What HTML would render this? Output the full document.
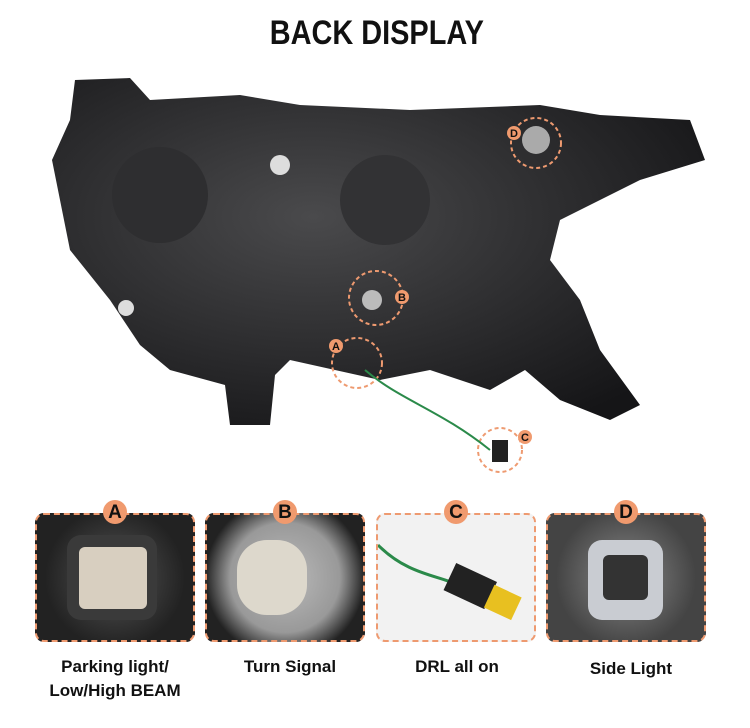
<!DOCTYPE html>
<html><head><style>
body{margin:0;width:750px;height:728px;background:#fff;position:relative;overflow:hidden;font-family:"Liberation Sans",sans-serif}
.t{position:absolute;top:14px;left:0;width:750px;text-align:center;font-weight:bold;font-size:34px;color:#111;transform:scaleX(0.85);transform-origin:387px 0}
.p{position:absolute;top:513px;width:160px;height:129px;border:2px dashed #ee9a70;border-radius:9px;overflow:hidden;box-sizing:border-box}
.l{position:absolute;top:500px;width:24px;height:24px;border-radius:50%;background:#f09a6e;color:#111;font-weight:bold;font-size:19px;text-align:center;line-height:25px}
.c{position:absolute;top:655px;width:170px;text-align:center;font-weight:bold;font-size:17px;color:#111;line-height:24px}
</style></head><body>
<div class="t">BACK DISPLAY</div>
<svg width="750" height="500" style="position:absolute;left:0;top:0">
<defs><radialGradient id="g" cx="40%" cy="40%" r="70%"><stop offset="0" stop-color="#4a4a4c"/><stop offset="1" stop-color="#151517"/></radialGradient></defs>
<path d="M75 80 L130 78 L150 100 L240 95 L300 105 L410 110 L540 105 L600 115 L690 120 L705 160 L640 180 L560 220 L550 260 L580 300 L600 350 L640 405 L610 420 L560 400 L525 370 L490 390 L430 370 L380 380 L290 360 L275 375 L270 425 L230 425 L225 385 L170 370 L140 345 L110 300 L70 250 L52 160 L70 120 Z" fill="url(#g)"/>
<circle cx="160" cy="195" r="48" fill="#2e2e30"/><circle cx="385" cy="200" r="45" fill="#323234"/>
<circle cx="280" cy="165" r="10" fill="#ddd"/><circle cx="126" cy="308" r="8" fill="#ddd"/><circle cx="372" cy="300" r="10" fill="#bbb"/>
<circle cx="536" cy="140" r="14" fill="#aaa"/>
<g fill="none" stroke="#ee9a70" stroke-width="2" stroke-dasharray="4 3">
<circle cx="536" cy="143" r="25"/><circle cx="376" cy="298" r="27"/><circle cx="357" cy="363" r="25"/><circle cx="500" cy="450" r="22"/></g>
<path d="M365 370 C400 400 440 410 490 450" stroke="#2b8a4a" stroke-width="2" fill="none"/>
<rect x="492" y="440" width="16" height="22" fill="#222"/>
<g font-weight="bold" font-size="11" text-anchor="middle" fill="#111">
<circle cx="514" cy="133" r="7" fill="#f09a6e"/><text x="514" y="137">D</text>
<circle cx="402" cy="297" r="7" fill="#f09a6e"/><text x="402" y="301">B</text>
<circle cx="336" cy="346" r="7" fill="#f09a6e"/><text x="336" y="350">A</text>
<circle cx="525" cy="437" r="7" fill="#f09a6e"/><text x="525" y="441">C</text></g>
</svg>
<div class="p" style="left:35px;background:radial-gradient(circle at 50% 50%,#555 0,#222 70%)"><div style="position:absolute;left:30px;top:20px;width:90px;height:85px;background:#3a3a3a;border-radius:14px"></div><div style="position:absolute;left:42px;top:32px;width:68px;height:62px;background:#d8cfc0;border-radius:6px"></div></div>
<div class="p" style="left:205px;background:radial-gradient(circle at 50% 50%,#bbb 0,#999 55%,#222 80%)"><div style="position:absolute;left:30px;top:25px;width:70px;height:75px;background:#ddd8cc;border-radius:30px"></div></div>
<div class="p" style="left:376px;background:#f2f2f2"><svg width="160" height="129"><path d="M0 30 C30 60 60 60 80 70" stroke="#2b8a4a" stroke-width="3" fill="none"/><rect x="70" y="55" width="45" height="30" fill="#222" transform="rotate(25 90 70)"/><rect x="110" y="75" width="30" height="25" fill="#e8c020" transform="rotate(25 125 87)"/></svg></div>
<div class="p" style="left:546px;background:radial-gradient(circle at 50% 50%,#888 0,#444 70%)"><div style="position:absolute;left:40px;top:25px;width:75px;height:80px;background:#c9ccd2;border-radius:14px"></div><div style="position:absolute;left:55px;top:40px;width:45px;height:45px;background:#333;border-radius:6px"></div></div>
<div class="l" style="left:103px">A</div><div class="l" style="left:273px">B</div><div class="l" style="left:444px">C</div><div class="l" style="left:614px">D</div>
<div class="c" style="left:30px">Parking light/<br>Low/High BEAM</div>
<div class="c" style="left:205px">Turn Signal</div>
<div class="c" style="left:372px">DRL all on</div>
<div class="c" style="left:546px;top:657px">Side Light</div>
</body></html>
